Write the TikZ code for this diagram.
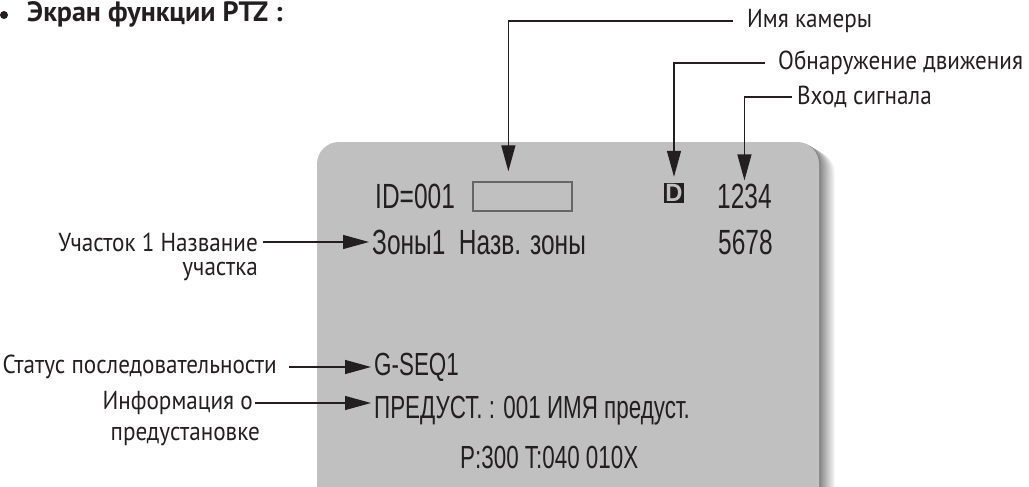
\documentclass[tikz,border=0pt]{standalone}
\usepackage{fontspec}
\setmainfont{PT Sans}
\newfontfamily\calloutfont[FakeStretch = 0.89]{PT Sans}
\newfontfamily\osdfont[FakeStretch = 0.70]{Liberation Sans}
\newfontfamily\osdbold[FakeStretch = 0.95]{Liberation Sans Bold}
\usetikzlibrary{positioning, arrows.meta}
\definecolor{screengray}{HTML}{C0C0C0}
\definecolor{inkgray}{HTML}{231F20}
\tikzset{
  > = {Triangle[length = 26pt, width = 14pt]},
  callout/.style = {inner sep = 0pt, text = inkgray,
    font = \calloutfont\fontsize{26}{30}\selectfont},
  osdtext/.style = {inner sep = 0pt, anchor = west, text = inkgray,
    font = \osdfont\fontsize{35}{40}\selectfont},
  osdsmall/.style = {osdtext, font = \osdfont\fontsize{32}{36}\selectfont},
  namebox/.style = {draw = black!60, line width = 1.3pt, inner sep = 0pt,
    minimum width = 99pt, minimum height = 29pt},
  motionbox/.style = {fill = inkgray, text = screengray, inner sep = 0pt,
    minimum size = 20pt, font = \osdbold\fontsize{25}{25}\selectfont},
  pointer/.style = {->, draw = inkgray, line width = 1.2pt},
  pointer gap/.style n args = {2}{pointer, shorten < = #1, shorten > = #2}
}

\begin{document}
\begin{tikzpicture}[x = 1pt, y = -1pt]
\useasboundingbox (0,0) rectangle (1029,487);
\clip (0,0) rectangle (1029,487);

%% Screen
\foreach \i [evaluate = \i as \s using 3*(17-\i)] in {16,...,1}
  \fill [black!\s, rounded corners = 22pt] (317+\i, 142+0.6*\i) rectangle (819+\i, 520);
\fill [screengray, rounded corners = 22pt] (317,142) rectangle (819,520);

%% Title
\node [inner sep = 0pt, anchor = west, text = inkgray,
  font = \bfseries\fontsize{28}{32}\selectfont] (title) at (27,14) {Экран функции PTZ :};
\fill [inkgray] ([xshift = -23pt, yshift = -1pt] title.west) circle (4pt);

%% On-screen display
\node [osdtext] (id) at (375,196) {ID=001};
\node [namebox] (camname) at (522.5,196.5) {};
\node [motionbox] (motion) at (674,193) {D};
\node [osdtext] (input1) at (717,196) {1234};
\node [osdtext] (input2) at (718,242) {5678};
\node [osdtext] (zone) at (372,242) {Зоны1\ \ Назв. зоны};
\node [osdsmall] (seq) at (374,367) {G-SEQ1};
\node [osdsmall] (preset) at (374,411) {ПРЕДУСТ. : 001 ИМЯ предуст.};
\node [osdsmall] (pantilt) at (460,457) {P:300 T:040 010X};

%% Callouts
\node [callout, anchor = west] (camlbl) at (747,21) {Имя камеры};
\node [callout, anchor = west] (motionlbl) at (778,63) {Обнаружение движения};
\node [callout, anchor = west] (inputlbl) at (797,97) {Вход сигнала};
\node [callout, anchor = east] (zonelbl) at (258,242) {Участок 1 Название};
\node [callout, anchor = east] (zonelbl2) at (258,272) {участка};
\node [callout, anchor = east] (seqlbl) at (277,367) {Статус последовательности};
\node [callout, anchor = east] (presetlbl) at (253,403) {Информация о};
\node [callout, anchor = east] (presetlbl2) at (260,437) {предустановке};

%% Pointers
\draw [pointer gap = {14pt}{10pt}] (camlbl.west) -| (camname.133);
\draw [pointer gap = {13pt}{6pt}] (motionlbl.west) -| (motion.north);
\draw [pointer gap = {5pt}{3pt}] (inputlbl.west) -| (input1.north);
\draw [pointer gap = {5pt}{3pt}] (zonelbl.east) -- (zonelbl.east -| zone.west);
\draw [pointer gap = {12pt}{3pt}] (seqlbl.east) -- (seqlbl.east -| seq.west);
\draw [pointer gap = {2pt}{3pt}] (presetlbl.east) -- (presetlbl.east -| preset.west);

\end{tikzpicture}
\end{document}
